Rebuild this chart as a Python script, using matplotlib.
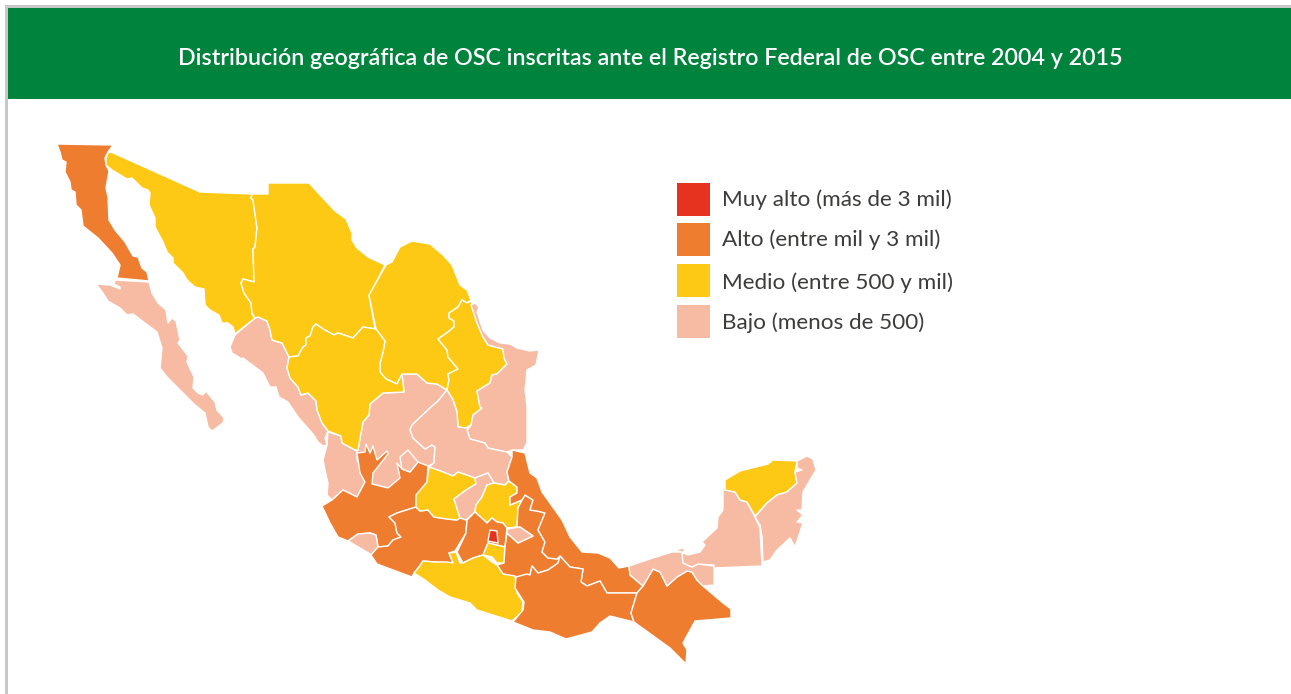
import matplotlib
matplotlib.use("Agg")
import matplotlib.pyplot as plt
from matplotlib.patches import Polygon, Rectangle

TITLE = "Distribución geográfica de OSC inscritas ante el Registro Federal de OSC entre 2004 y 2015"
LEGEND_LABELS = ["Muy alto (más de 3 mil)", "Alto (entre mil y 3 mil)", "Medio (entre 500 y mil)", "Bajo (menos de 500)"]
CLASS_COLORS = {"muy_alto": "#E6331F", "alto": "#EF7D30", "medio": "#FDC915", "bajo": "#F7BAA3"}

# State outlines (image pixel coordinates)
BC = [(57,144),(113,145),(108,152),(105,158),(106,165),(109,171),(106,188),(108,197),(109,220),(115,230),(125,242),(133,256),(138,257),(142,268),(147,272),(149,281),(117,278),(120,265),(112,253),(98,238),(83,226),(81,210),(76,205),(75,192),(71,190),(70,182),(65,172),(66,162),(62,160),(60,152)]
BCS = [(96,284),(110,285),(120,289),(120,287),(114,284),(115,280),(149,282),(152,293),(158,303),(166,310),(168,323),(172,318),(176,321),(180,340),(178,343),(188,356),(187,362),(194,377),(193,388),(198,393),(203,395),(206,391),(215,402),(217,410),(224,418),(223,423),(212,431),(208,427),(205,413),(195,405),(168,378),(167,377),(160,368),(162,348),(157,332),(133,314),(127,315),(120,308),(108,301),(103,293)]
SON = [(111,152),(200,192),(252,194),(251,198),(253,200),(257,228),(255,247),(253,249),(254,282),(243,279),(241,283),(244,293),(251,303),(252,314),(255,318),(235,334),(233,327),(228,323),(222,323),(219,315),(210,310),(205,305),(204,289),(195,287),(187,280),(183,273),(173,263),(173,258),(167,252),(163,242),(155,227),(155,218),(149,205),(150,193),(148,190),(142,188),(132,178),(127,179),(112,170),(106,165),(106,158),(108,153)]
CHIH = [(252,194),(268,194),(268,183),(309,183),(335,211),(346,219),(352,233),(352,240),(357,248),(368,257),(385,265),(369,296),(375,329),(363,327),(353,338),(338,333),(334,335),(323,329),(316,324),(313,327),(310,336),(306,338),(306,345),(303,347),(298,356),(289,357),(282,343),(272,340),(270,330),(267,321),(258,317),(255,318),(252,313),(251,303),(244,293),(241,283),(243,279),(254,282),(253,249),(255,247),(257,228),(253,200),(251,198)]
COAH = [(386,265),(392,262),(400,247),(412,241),(430,244),(443,255),(452,265),(460,285),(467,290),(471,300),(467,303),(462,300),(458,307),(449,313),(449,318),(454,321),(454,327),(448,332),(438,339),(447,350),(448,357),(458,369),(448,374),(449,380),(447,390),(437,384),(427,383),(417,374),(402,374),(397,384),(386,379),(380,372),(380,363),(383,352),(385,341),(376,329),(369,295)]
NL = [(462,300),(467,303),(471,301),(473,308),(477,323),(483,337),(488,345),(503,349),(504,358),(507,364),(497,374),(492,375),(490,383),(477,391),(480,407),(482,408),(473,415),(471,425),(466,428),(458,427),(457,412),(453,400),(447,390),(449,380),(448,374),(458,369),(448,357),(447,350),(438,339),(448,332),(454,327),(454,321),(449,318),(449,313),(458,307)]
TAMPS = [(471,305),(475,303),(479,307),(477,312),(483,330),(490,338),(500,343),(510,344),(517,348),(530,351),(539,350),(536,365),(527,370),(525,390),(527,407),(527,443),(523,450),(513,450),(507,452),(497,450),(488,448),(485,443),(470,439),(467,430),(471,425),(473,415),(482,408),(480,407),(477,391),(490,383),(492,375),(497,374),(507,364),(504,358),(503,349),(488,345),(483,337),(477,323)]
DGO = [(289,357),(298,356),(303,347),(306,345),(306,338),(310,336),(313,327),(316,324),(323,329),(334,335),(338,333),(353,338),(363,327),(376,329),(385,341),(383,352),(380,363),(380,372),(386,379),(397,384),(402,374),(404,392),(383,393),(370,404),(369,415),(363,422),(358,450),(355,450),(342,443),(341,436),(328,431),(322,423),(317,410),(316,401),(308,393),(301,395),(298,387),(290,378),(287,368)]
SIN = [(255,318),(258,317),(267,321),(270,330),(272,340),(282,343),(289,357),(287,368),(290,378),(298,387),(301,395),(308,393),(316,401),(317,410),(322,423),(328,431),(325,438),(327,445),(323,446),(318,442),(313,434),(298,417),(288,402),(279,397),(276,387),(270,387),(263,373),(243,358),(242,359),(232,353),(230,347),(235,335)]
NAY = [(328,432),(341,436),(342,443),(357,451),(357,460),(362,470),(364,478),(365,482),(357,497),(343,490),(332,500),(327,495),(328,483),(326,475),(323,460),(327,445)]
ZAC = [(402,374),(417,374),(427,383),(437,384),(447,390),(438,401),(430,408),(412,425),(410,430),(413,438),(425,449),(432,445),(435,447),(434,463),(428,466),(400,480),(388,488),(372,484),(365,470),(357,460),(357,451),(358,450),(363,422),(369,415),(370,404),(383,393),(404,392)]
SLP = [(447,390),(453,400),(457,412),(458,427),(466,428),(471,425),(467,430),(470,439),(485,443),(488,448),(497,450),(507,452),(512,457),(507,472),(509,481),(505,485),(494,483),(488,473),(475,478),(458,472),(453,476),(443,472),(429,467),(434,463),(435,447),(432,445),(425,449),(413,438),(410,430),(412,425),(430,408),(438,401)]
JAL = [(322,506),(332,500),(343,490),(357,497),(365,482),(360,473),(357,453),(365,452),(366,444),(370,453),(373,446),(377,460),(387,451),(388,454),(373,473),(372,484),(388,488),(400,478),(397,463),(402,469),(410,472),(418,462),(428,466),(427,482),(417,495),(416,507),(397,513),(389,517),(395,523),(397,533),(401,537),(393,540),(388,546),(378,547),(376,535),(370,533),(358,534),(348,541),(338,537),(330,523)]
AGS = [(400,457),(408,450),(418,462),(410,472),(402,469)]
COL = [(348,541),(358,534),(370,533),(376,535),(378,547),(372,555),(360,548)]
MICH = [(371,555),(378,547),(388,546),(393,540),(401,537),(397,533),(395,523),(389,517),(397,513),(416,507),(420,511),(428,510),(434,517),(447,519),(457,520),(462,516),(467,520),(466,533),(455,551),(449,553),(453,563),(435,562),(423,561),(419,567),(414,573),(412,577),(377,564)]
GTO = [(429,467),(443,472),(453,476),(458,472),(475,478),(476,484),(466,490),(454,499),(460,518),(457,520),(447,519),(434,517),(428,510),(420,511),(416,507),(416,495),(427,482)]
QRO = [(475,478),(488,473),(494,483),(487,485),(482,497),(476,505),(475,512),(466,520),(460,518),(454,499),(466,490),(476,484)]
HGO = [(494,483),(505,485),(509,481),(517,487),(517,493),(510,497),(510,505),(522,500),(518,508),(517,527),(507,528),(503,523),(497,522),(492,518),(487,523),(475,512),(476,505),(482,497),(487,485)]
MEX = [(475,512),(487,523),(492,518),(497,522),(503,523),(507,528),(505,547),(488,543),(483,555),(473,558),(463,563),(457,552),(466,533),(467,520)]
CDMX = [(488,541),(490,530),(497,531),(498,543)]
MOR = [(488,543),(505,547),(504,563),(497,563),(492,557),(483,555)]
TLAX = [(507,529),(520,527),(533,536),(518,543),(507,533)]
PUE = [(522,500),(525,495),(533,500),(530,510),(537,511),(545,513),(538,530),(545,542),(542,552),(548,558),(557,559),(560,556),(558,563),(548,570),(538,573),(532,566),(530,575),(516,577),(503,574),(497,565),(504,563),(505,547),(507,533),(518,543),(533,536),(520,527),(507,529),(517,527),(518,508)]
VER = [(512,450),(525,453),(530,473),(537,478),(542,492),(562,520),(570,537),(582,552),(598,553),(610,558),(619,568),(629,566),(630,575),(643,586),(637,593),(607,593),(600,581),(587,586),(581,582),(583,569),(570,567),(560,556),(557,559),(548,558),(542,552),(545,542),(538,530),(545,513),(537,511),(530,510),(533,500),(525,495),(522,500),(510,505),(510,497),(517,493),(517,487),(509,481),(507,472),(512,457)]
GRO = [(414,573),(419,567),(423,561),(435,562),(447,562),(453,563),(449,553),(456,552),(460,563),(463,563),(473,558),(483,555),(492,562),(497,565),(503,574),(515,576),(517,593),(523,602),(522,612),(512,621),(493,615),(477,610),(470,603),(450,597),(438,590),(425,580)]
OAX = [(560,556),(570,567),(583,569),(581,582),(587,586),(600,581),(607,593),(637,593),(631,613),(634,622),(610,616),(600,623),(592,632),(566,639),(550,632),(533,630),(513,622),(523,610),(524,602),(515,588),(516,577),(527,574),(530,575),(532,566),(538,573),(548,570),(558,563)]
CHIS = [(653,569),(660,572),(667,586),(677,577),(687,571),(692,572),(697,580),(703,586),(723,603),(731,609),(731,618),(695,621),(683,643),(687,650),(686,664),(670,648),(634,622),(631,613),(637,593),(643,586)]
TAB = [(629,566),(653,558),(672,552),(682,552),(683,563),(692,567),(698,564),(714,566),(714,585),(703,586),(697,580),(692,572),(687,571),(677,577),(667,586),(660,572),(653,569),(643,586),(630,575)]
CAMP = [(673,550),(685,548),(683,553),(688,555),(700,552),(705,545),(702,542),(717,528),(718,517),(723,510),(723,483),(725,490),(735,492),(740,500),(747,502),(755,517),(760,528),(762,566),(714,568),(714,565),(698,564),(692,567),(683,563),(682,552)]
YUC = [(725,480),(740,471),(768,464),(773,460),(797,461),(795,472),(797,483),(787,492),(777,495),(767,503),(755,516),(747,502),(740,500),(735,492),(725,490)]
QROO = [(797,461),(807,456),(813,459),(816,470),(803,492),(802,510),(797,510),(803,515),(797,522),(803,523),(795,547),(790,538),(777,550),(770,560),(763,562),(762,537),(760,525),(755,517),(767,503),(777,495),(787,492),(797,483),(795,472),(802,470),(797,468)]

STATES = [
    (ZAC, "bajo"), (NAY, "bajo"), (SIN, "bajo"), (JAL, "alto"), (AGS, "bajo"), (COL, "bajo"),
    (BC, "alto"), (BCS, "bajo"), (SON, "medio"), (CHIH, "medio"), (COAH, "medio"), (NL, "medio"),
    (TAMPS, "bajo"), (DGO, "medio"), (SLP, "bajo"), (MICH, "alto"), (GTO, "medio"), (QRO, "bajo"),
    (HGO, "medio"), (MEX, "alto"), (MOR, "medio"), (PUE, "alto"), (TLAX, "bajo"),
    (VER, "alto"), (GRO, "medio"), (OAX, "alto"), (CHIS, "alto"), (TAB, "bajo"), (CAMP, "bajo"),
    (YUC, "medio"), (QROO, "bajo"), (CDMX, "muy_alto"),
]

plt.rcParams["font.family"] = ["Lato", "DejaVu Sans"]
fig = plt.figure(figsize=(12.91, 6.94), dpi=100, facecolor="white")
ax = fig.add_axes([0, 0, 1, 1])
ax.set_xlim(0, 1291)
ax.set_ylim(694, 0)
ax.axis("off")

# frame and header band
ax.add_patch(Rectangle((5, 5), 1286, 689, facecolor="white", edgecolor="none"))
ax.add_patch(Rectangle((5, 5), 2.5, 689, facecolor="#C8C8C8", edgecolor="none"))
ax.add_patch(Rectangle((5, 5), 1286, 2.7, facecolor="#C8C8C8", edgecolor="none"))
ax.add_patch(Rectangle((7.5, 7.7), 1283.5, 91.3, facecolor="#00833C", edgecolor="none"))
ax.text(650.5, 58, TITLE, color="white", fontsize=16.75, fontweight="semibold", ha="center", va="center")

for outline, cls in STATES:
    ax.add_patch(Polygon(outline, closed=True, facecolor=CLASS_COLORS[cls], edgecolor="white", linewidth=1.0, joinstyle="round"))

legend_tops = [183, 223, 264, 305]
label_centres = [199.5, 239.5, 283, 323]
for top, centre, label, cls in zip(legend_tops, label_centres, LEGEND_LABELS, CLASS_COLORS):
    ax.add_patch(Rectangle((677, top), 33, 33, facecolor=CLASS_COLORS[cls], edgecolor="none"))
    ax.text(722, centre, label, color="#3C3C3B", fontsize=16.2, ha="left", va="center")

fig.savefig("out.png", dpi=100)
